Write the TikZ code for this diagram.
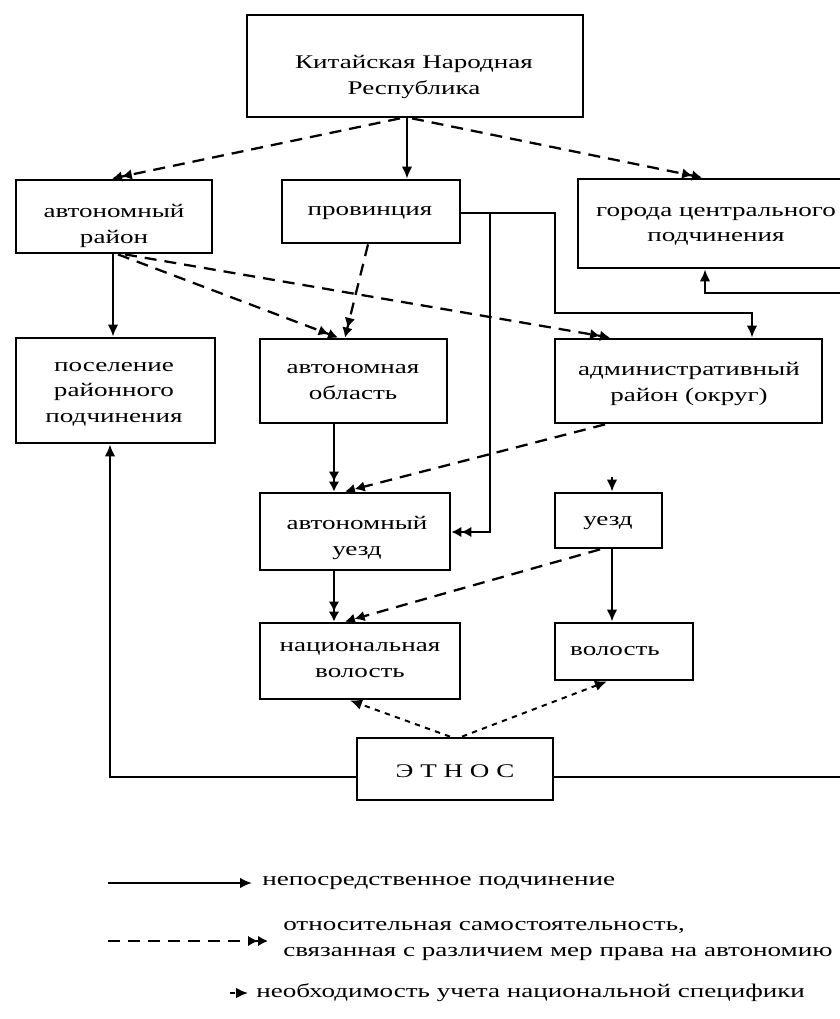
\documentclass[tikz,border=0pt]{standalone}
\usepackage{fontspec}
\setmainfont{Liberation Serif}[FakeStretch=1.4]
\usetikzlibrary{fit,arrows.meta}
\begin{document}
\begin{tikzpicture}[x=0.75pt,y=-0.75pt,
  box/.style={draw, line width=2.1pt, inner sep=0pt},
  lbl/.style={font=\fontsize{14.5}{19}\selectfont, align=center, inner sep=0pt},
  sol/.style={line width=1.7pt, -{Latex[length=9pt,width=8pt]}},
  sol2/.style={line width=1.7pt, -{Latex[length=7.5pt,width=8pt]Latex[length=7.5pt,width=8pt]}},
  dsh/.style={line width=1.7pt, dash pattern=on 9pt off 6pt, -{Latex[length=7.5pt,width=8pt]Latex[length=7.5pt,width=8pt]}},
  spec/.style={line width=1.5pt, dash pattern=on 4pt off 4pt, -{Latex[length=9pt,width=8pt]}},
]
\useasboundingbox (0,0) rectangle (839,1019);

% boxes
\node[box, fit={(247,15)(583,117)}] (knr) {};
\node[lbl] (knrT) at (414,77) {Китайская Народная\\Республика};
\node[box, fit={(16,180)(212,253)}] (arayon) {};
\node[lbl] (arayonT) at (114,226) {автономный\\район};
\node[box, fit={(282,180)(460,243)}] (prov) {};
\node[lbl] (provT) at (370,213) {провинция};
\node[box, fit={(578,179)(852,268)}] (gorod) {};
\node[lbl] (gorodT) at (716,226) {города центрального\\подчинения};
\node[box, fit={(16,338)(215,443)}] (pos) {};
\node[lbl] (posT) at (114,394) {поселение\\районного\\подчинения};
\node[box, fit={(260,339)(447,423)}] (aobl) {};
\node[lbl] (aoblT) at (353,382) {автономная\\область};
\node[box, fit={(555,339)(822,423)}] (adm) {};
\node[lbl] (admT) at (689,384) {административный\\район (округ)};
\node[box, fit={(260,493)(450,570)}] (auezd) {};
\node[lbl] (auezdT) at (357,538) {автономный\\уезд};
\node[box, fit={(555,493)(662,548)}] (uezd) {};
\node[lbl] (uezdT) at (608,523) {уезд};
\node[box, fit={(260,623)(460,699)}] (nvol) {};
\node[lbl] (nvolT) at (360,660) {национальная\\волость};
\node[box, fit={(555,623)(693,680)}] (vol) {};
\node[lbl] (volT) at (615,651) {волость};
\node[box, fit={(357,738)(553,800)}] (eth) {};
\node[lbl] (ethT) at (455,771) {Э Т Н О С};

% helper coordinates
\foreach \xx in {110,112,113,118,125,334,338,345,350,368,400,407,412,450,462,600,605,607,610,612,702}
  {\coordinate (c\xx) at (\xx,0);}
\coordinate (b1) at (555,213);
\coordinate (b2) at (752,313);
\coordinate (b3) at (110,777);
\coordinate (b4) at (848,777);
\coordinate (b5) at (705,293);
\coordinate (b6) at (612,477);
\coordinate (b7) at (490,213);
\coordinate (b8) at (490,532);

% solid
\draw[sol] (knr.south -| c407) -- (prov.north -| c407);
\draw[sol] (arayon.south -| c113) -- (pos.north -| c113);
\draw[sol] (prov.east |- b1) -- (b1) |- (b2) -- (adm.north -| b2);
\draw[sol] (uezd.south -| c612) -- (vol.north -| c612);
\draw[sol] (eth.west |- b3) -- (b3) -- (pos.south -| b3);
\draw[sol] (eth.east |- b4) -- (b4) |- (b5) -- (gorod.south -| b5);
\draw[spec] (b6) -- (uezd.north -| b6);
\draw[sol2] (aobl.south -| c334) -- (auezd.north -| c334);
\draw[sol2] (auezd.south -| c334) -- (nvol.north -| c334);
\draw[sol2] (b7) -- (b8) -- (auezd.east |- b8);

% dashed
\draw[dsh] (knr.south -| c400) -- (arayon.north -| c112);
\draw[dsh] (knr.south -| c412) -- (gorod.north -| c702);
\draw[dsh] (arayon.south -| c118) -- (aobl.north -| c338);
\draw[dsh] (arayon.south -| c125) -- (adm.north -| c610);
\draw[dsh] (prov.south -| c368) -- (aobl.north -| c345);
\draw[dsh] (adm.south -| c605) -- (auezd.north -| c345);
\draw[dsh] (uezd.south -| c600) -- (nvol.north -| c345);

% dotted
\draw[spec] (eth.north -| c450) -- (nvol.south -| c350);
\draw[spec] (eth.north -| c462) -- (vol.south -| c607);

% legend
\coordinate (l1a) at (108,883); \coordinate (l1b) at (252,883);
\draw[sol] (l1a) -- (l1b);
\node[lbl, anchor=west] (l1t) at (262,883) {непосредственное подчинение};
\coordinate (l2a) at (108,941); \coordinate (l2b) at (268,941);
\draw[dsh] (l2a) -- (l2b);
\node[lbl, anchor=west, align=left] (l2t) at (283,941) {относительная самостоятельность,\\связанная с различием мер права на автономию};
\coordinate (l3a) at (230,993); \coordinate (l3b) at (248,993);
\draw[spec] (l3a) -- (l3b);
\node[lbl, anchor=west] (l3t) at (256,993) {необходимость учета национальной специфики};
\end{tikzpicture}
\end{document}
